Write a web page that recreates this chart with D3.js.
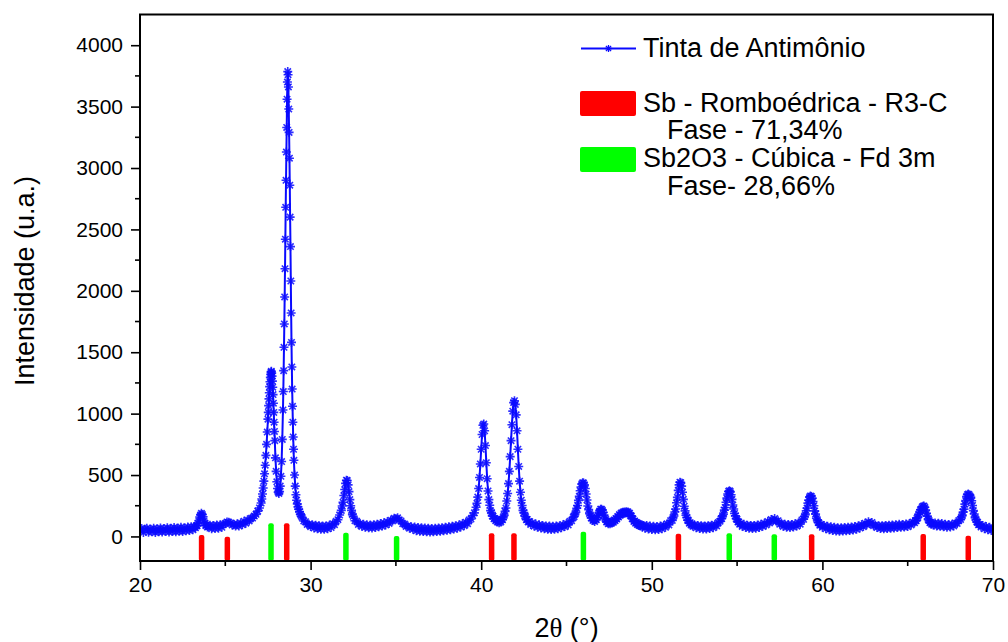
<!DOCTYPE html>
<html>
<head>
<meta charset="utf-8">
<script src="https://cdn.jsdelivr.net/npm/d3@7"></script>
<style>
  html, body { margin: 0; padding: 0; background: #ffffff; }
  svg { display: block; }
  text { font-family: "Liberation Sans", Arial, sans-serif; fill: #000; }
</style>
</head>
<body>
<svg id="chart" width="1008" height="642"></svg>
<script>
// ---------- DATA ----------
const xTicks = [20, 30, 40, 50, 60, 70];
const yTicks = [0, 500, 1000, 1500, 2000, 2500, 3000, 3500, 4000];

// XRD pattern: [2theta (deg), intensity (u.a.)]
const pattern = [
 [20.0,46],[20.1,64],[20.2,32],[20.3,58],[20.4,66],[20.5,34],[20.6,60],[20.7,38],[20.8,66],[20.9,32],
 [21.0,62],[21.1,38],[21.2,68],[21.3,36],[21.4,64],[21.5,40],[21.6,70],[21.7,36],[21.8,66],[21.9,40],
 [22.0,72],[22.1,38],[22.2,68],[22.3,42],[22.4,74],[22.5,40],[22.6,70],[22.7,46],[22.8,76],[22.9,48],
 [23.0,78],[23.1,54],[23.2,78],
 [23.25,70],[23.3,86],[23.35,88],[23.4,110],[23.45,126],[23.5,158],[23.55,174],[23.6,188],[23.65,178],
 [23.7,160],[23.75,126],[23.8,110],[23.85,90],[23.9,90],[23.95,76],[24.0,80],
 [24.1,92],[24.2,62],[24.3,90],[24.4,64],[24.5,94],[24.6,66],[24.7,96],[24.8,74],[24.9,100],[25.0,106],
 [25.1,118],[25.2,116],[25.3,110],[25.4,94],[25.5,100],[25.6,84],[25.7,104],[25.8,86],[25.9,110],[26.0,96],
 [26.1,124],[26.2,108],[26.3,134],[26.4,126],[26.5,148],[26.6,150],[26.7,166],[26.8,180],[26.9,206],[27.0,232],
 [27.1,272],
 [27.14,305],[27.18,345],[27.22,395],[27.26,450],[27.3,510],[27.34,580],[27.38,660],[27.42,750],[27.46,850],
 [27.5,955],[27.52,1010],[27.54,1065],[27.56,1120],[27.58,1170],[27.6,1220],[27.62,1260],[27.64,1295],
 [27.66,1320],[27.68,1338],[27.7,1345],[27.72,1330],[27.74,1305],[27.76,1265],[27.78,1215],[27.8,1155],
 [27.82,1085],[27.84,1010],[27.86,930],[27.88,855],[27.9,780],
 [27.94,640],[27.98,530],[28.02,445],[28.06,390],[28.1,360],[28.14,350],[28.18,365],[28.22,410],[28.26,490],
 [28.3,610],[28.34,790],[28.38,1030],
 [28.4,1180],[28.42,1350],[28.44,1540],[28.46,1730],[28.48,1950],[28.5,2180],[28.52,2420],[28.54,2680],
 [28.56,2900],[28.58,3130],[28.6,3330],[28.62,3560],[28.64,3700],[28.66,3785],[28.68,3760],[28.7,3660],
 [28.72,3480],[28.74,3290],[28.76,3080],[28.78,2860],[28.8,2600],[28.82,2360],[28.84,2080],[28.86,1820],
 [28.88,1580],[28.9,1380],[28.92,1200],[28.94,1060],[28.96,930],[28.98,810],[29.0,710],
 [29.02,620],[29.06,500],[29.1,410],[29.14,340],[29.18,295],[29.22,265],[29.26,240],[29.3,222],[29.35,200],
 [29.4,182],[29.45,166],
 [29.5,156],[29.6,126],[29.7,120],[29.8,98],[29.9,100],[30.0,80],[30.1,96],[30.2,68],[30.3,92],[30.4,62],
 [30.5,88],[30.6,58],[30.7,86],[30.8,58],[30.9,86],[31.0,62],[31.1,92],[31.2,72],[31.3,104],[31.4,96],
 [31.5,124],[31.6,136],[31.7,174],[31.8,212],[31.85,248],[31.9,278],[31.95,333],[32.0,382],[32.05,432],
 [32.1,458],[32.15,455],[32.2,420],[32.25,365],[32.3,300],[32.35,250],[32.4,212],[32.45,178],[32.5,164],
 [32.6,128],[32.7,124],[32.8,98],[32.9,106],[33.0,82],[33.1,100],[33.2,74],[33.3,96],[33.4,70],[33.5,94],
 [33.6,68],[33.7,96],[33.8,72],[33.9,100],[34.0,78],[34.1,106],[34.2,84],[34.3,112],[34.4,94],[34.5,120],
 [34.6,106],[34.7,132],[34.8,126],[34.9,148],[35.0,144],[35.1,152],[35.2,134],[35.3,126],[35.4,104],
 [35.5,102],[35.6,82],[35.7,86],[35.8,66],[35.9,78],[36.0,58],
 [36.1,76],[36.2,46],[36.3,72],[36.4,42],[36.5,70],[36.6,40],[36.7,68],[36.8,38],[36.9,66],[37.0,36],
 [37.1,64],[37.2,38],[37.3,66],[37.4,40],[37.5,68],[37.6,42],[37.7,70],[37.8,46],[37.9,74],[38.0,50],
 [38.1,78],[38.2,54],[38.3,82],[38.4,60],[38.5,88],[38.6,66],[38.7,94],[38.8,76],[38.9,104],[39.0,88],
 [39.1,116],[39.2,104],[39.3,134],[39.4,142],[39.5,170],[39.6,192],[39.7,238],
 [39.75,270],[39.8,320],[39.85,390],[39.9,480],[39.95,590],[40.0,710],[40.05,830],[40.1,905],[40.15,915],
 [40.2,860],[40.25,740],[40.3,600],[40.35,470],[40.4,370],[40.45,300],[40.5,254],[40.55,210],[40.6,194],
 [40.65,166],[40.7,164],[40.75,144],[40.8,146],[40.85,128],[40.9,136],[40.95,118],[41.0,128],[41.05,112],
 [41.1,128],[41.15,118],[41.2,138],[41.25,136],[41.3,160],[41.35,171],[41.4,204],[41.45,231],[41.5,288],
 [41.55,350],[41.6,430],[41.65,530],[41.7,650],[41.75,780],[41.8,910],[41.85,1020],[41.9,1090],[41.95,1105],
 [42.0,1075],[42.05,990],[42.1,860],[42.15,710],[42.2,570],[42.25,450],[42.3,360],[42.35,295],[42.4,252],
 [42.45,212],[42.5,194],[42.55,166],[42.6,160],[42.65,136],[42.7,138],[42.75,118],[42.8,122],
 [42.9,98],[43.0,112],[43.1,84],[43.2,102],[43.3,74],[43.4,96],[43.5,68],[43.6,90],[43.7,62],[43.8,86],
 [43.9,58],[44.0,84],[44.1,56],[44.2,82],[44.3,58],[44.4,84],[44.5,62],[44.6,88],[44.7,70],[44.8,96],
 [44.9,80],[45.0,106],[45.1,94],[45.2,124],[45.3,128],[45.4,156],
 [45.45,162],[45.5,186],[45.55,197],[45.6,229],[45.65,252],[45.7,294],[45.75,327],[45.8,372],[45.85,403],
 [45.9,428],[45.95,438],[46.0,435],[46.05,420],[46.1,390],[46.15,345],[46.2,297],[46.25,248],[46.3,218],
 [46.35,186],[46.4,174],[46.45,150],[46.5,150],[46.55,130],[46.6,136],[46.65,122],[46.7,138],[46.75,136],
 [46.8,156],[46.85,168],[46.9,194],[46.95,208],[47.0,222],[47.05,222],[47.1,214],[47.15,196],[47.2,174],
 [47.25,148],[47.3,138],[47.35,118],[47.4,120],[47.45,104],[47.5,114],[47.55,104],[47.6,118],[47.65,110],
 [47.7,124],[47.75,116],[47.8,134],[47.85,128],[47.9,146],[47.95,142],[48.0,162],[48.05,158],[48.1,178],
 [48.15,172],[48.2,190],[48.25,182],[48.3,196],[48.35,186],[48.4,200],[48.45,190],[48.5,202],[48.55,192],
 [48.6,200],[48.65,188],[48.7,189],[48.75,171],[48.8,166],[48.85,146],[48.9,142],[48.95,122],[49.0,126],
 [49.05,108],[49.1,114],[49.15,98],[49.2,106],[49.25,90],[49.3,100],[49.35,84],[49.4,94],[49.45,78],[49.5,90],
 [49.6,66],[49.7,90],[49.8,60],[49.9,84],[50.0,56],[50.1,82],[50.2,54],[50.3,80],[50.4,56],[50.5,84],
 [50.6,62],[50.7,90],[50.8,74],[50.9,104],[51.0,94],[51.1,128],[51.2,130],
 [51.25,156],[51.3,166],[51.35,199],[51.4,224],[51.45,274],[51.5,318],[51.55,375],[51.6,420],[51.65,442],
 [51.7,438],[51.75,410],[51.8,360],[51.85,302],[51.9,246],[51.95,208],[52.0,172],[52.05,156],[52.1,132],
 [52.15,128],[52.2,108],[52.25,112],[52.3,94],[52.35,100],[52.4,84],
 [52.5,96],[52.6,70],[52.7,90],[52.8,64],[52.9,88],[53.0,60],[53.1,86],[53.2,60],[53.3,88],[53.4,64],
 [53.5,92],[53.6,70],[53.7,98],[53.8,86],[53.9,114],[54.0,124],
 [54.05,142],[54.1,146],[54.15,169],[54.2,181],[54.25,214],[54.3,236],[54.35,278],[54.4,312],[54.45,345],
 [54.5,366],[54.55,372],[54.6,365],[54.65,340],[54.7,302],[54.75,256],[54.8,223],[54.85,187],[54.9,169],
 [54.95,144],[55.0,138],[55.05,118],[55.1,118],[55.15,100],[55.2,106],
 [55.3,82],[55.4,100],[55.5,72],[55.6,92],[55.7,66],[55.8,90],[55.9,64],[56.0,90],[56.1,66],[56.2,94],
 [56.3,72],[56.4,100],[56.5,82],[56.6,108],[56.7,94],[56.8,122],[56.9,110],[57.0,138],[57.1,128],[57.2,146],
 [57.3,124],[57.4,128],[57.5,100],[57.6,108],[57.7,82],[57.8,100],[57.9,74],[58.0,98],[58.1,72],[58.2,98],
 [58.3,76],[58.4,104],[58.5,84],[58.6,112],[58.7,100],[58.8,134],[58.9,140],
 [58.95,164],[59.0,176],[59.05,209],[59.1,231],[59.15,271],[59.2,296],[59.25,322],[59.3,330],[59.35,326],
 [59.4,312],[59.45,285],[59.5,250],[59.55,208],[59.6,182],[59.65,148],[59.7,136],[59.75,114],[59.8,110],
 [59.85,92],[59.9,98],
 [60.0,74],[60.1,90],[60.2,62],[60.3,82],[60.4,54],[60.5,78],[60.6,48],[60.7,74],[60.8,44],[60.9,70],
 [61.0,42],[61.1,70],[61.2,44],[61.3,72],[61.4,46],[61.5,74],[61.6,48],[61.7,76],[61.8,52],[61.9,80],
 [62.0,58],[62.1,86],[62.2,68],[62.3,96],[62.4,80],[62.5,108],[62.6,96],[62.7,120],[62.8,106],[62.9,114],
 [63.0,88],[63.1,94],[63.2,72],[63.3,88],[63.4,64],[63.5,88],[63.6,62],[63.7,90],[63.8,64],[63.9,92],
 [64.0,66],[64.1,94],[64.2,68],[64.3,96],[64.4,72],[64.5,100],[64.6,74],[64.7,98],[64.8,76],[64.9,102],
 [65.0,80],[65.1,106],[65.2,94],[65.3,118],[65.4,112],
 [65.45,128],[65.5,128],[65.55,149],[65.6,156],[65.65,182],[65.7,195],[65.75,217],[65.8,223],[65.85,240],
 [65.9,246],[65.95,248],[66.0,238],[66.05,215],[66.1,188],[66.15,165],[66.2,139],[66.25,130],[66.3,112],
 [66.35,114],[66.4,100],[66.45,108],[66.5,94],
 [66.6,110],[66.7,84],[66.8,108],[66.9,82],[67.0,106],[67.1,78],[67.2,100],[67.3,74],[67.4,98],[67.5,76],
 [67.6,100],[67.7,86],[67.8,110],[67.9,106],[68.0,130],[68.1,138],
 [68.15,158],[68.2,169],[68.25,198],[68.3,222],[68.35,263],[68.4,292],[68.45,325],[68.5,340],[68.55,345],
 [68.6,340],[68.65,330],[68.7,318],[68.75,290],[68.8,252],[68.85,210],[68.9,183],[68.95,152],[69.0,139],
 [69.05,118],[69.1,114],[69.15,96],[69.2,98],
 [69.3,76],[69.4,90],[69.5,62],[69.6,80],[69.7,54],[69.8,74],[69.9,48],[70.0,70]
];

// Reference reflections (position 2theta, bar top in u.a.; bars start at the bottom of the axis)
const sbPositions   = [23.61, 25.12, 28.60, 40.61, 41.92, 51.56, 59.37, 65.91, 68.55];
const sbTops        = [12, -2, 107, 26, 26, 22, 18, 20, 6];
const sb2o3Positions = [27.68, 32.07, 35.04, 45.99, 54.54, 57.18];
const sb2o3Tops      = [107, 31, 4, 39, 26, 18];

const seriesLabel = "Tinta de Antimônio";
const sbLabel = ["Sb - Romboédrica - R3-C", "Fase - 71,34%"];
const sb2o3Label = ["Sb2O3 - Cúbica - Fd 3m", "Fase- 28,66%"];

// ---------- LAYOUT ----------
const m = { left: 140, right: 993, top: 14.5, bottom: 561 };
const x = d3.scaleLinear().domain([20, 70]).range([m.left, m.right]);
const y = d3.scaleLinear().domain([-200, 4250]).range([m.bottom, m.top]);
const svg = d3.select("#chart");
const BLUE = "#0a0aff";

// reference bars
const barW = 5.5;
function drawBars(pos, tops, color) {
  svg.append("g").selectAll("rect").data(pos.map((p, i) => [p, tops[i]])).join("rect")
    .attr("x", d => x(d[0]) - barW / 2)
    .attr("y", d => y(d[1]))
    .attr("width", barW)
    .attr("height", d => y(-200) - y(d[1]))
    .attr("rx", 2)
    .attr("fill", color);
}
drawBars(sbPositions, sbTops, "#ff0000");
drawBars(sb2o3Positions, sb2o3Tops, "#00ff00");

// pattern line + asterisk markers
svg.append("clipPath").attr("id", "clip").append("rect")
  .attr("x", m.left).attr("y", m.top).attr("width", m.right - m.left).attr("height", m.bottom - m.top);
const gp = svg.append("g").attr("clip-path", "url(#clip)");
gp.append("path").datum(pattern)
  .attr("d", d3.line().x(d => x(d[0])).y(d => y(d[1])))
  .attr("fill", "none").attr("stroke", BLUE).attr("stroke-width", 2);
const star = "M-4.5,0H4.5M0,-4.5V4.5M-3.2,-3.2L3.2,3.2M-3.2,3.2L3.2,-3.2";
gp.append("g").selectAll("path").data(pattern).join("path")
  .attr("transform", d => `translate(${x(d[0])},${y(d[1])})`)
  .attr("d", star).attr("fill", "none").attr("stroke", BLUE).attr("stroke-width", 1.6).attr("stroke-opacity", 0.85);

// axes
const fs = 21;
const xAxis = svg.append("g").attr("transform", `translate(0,${m.bottom})`)
  .call(d3.axisBottom(x).tickValues(xTicks).tickFormat(d3.format("d")).tickSize(9).tickPadding(7));
const yAxis = svg.append("g").attr("transform", `translate(${m.left},0)`)
  .call(d3.axisLeft(y).tickValues(yTicks).tickFormat(d3.format("d")).tickSize(9).tickPadding(8));
[xAxis, yAxis].forEach(g => {
  g.select(".domain").remove();
  g.selectAll("line").attr("stroke", "#000").attr("stroke-width", 1.6);
  g.selectAll("text").attr("font-size", fs).attr("font-family", "Liberation Sans, Arial, sans-serif").attr("fill", "#000");
});
// minor ticks
const xMinor = xTicks.slice(0, -1).map(v => v + 5);
svg.append("g").selectAll("line").data(xMinor).join("line")
  .attr("x1", d => x(d)).attr("x2", d => x(d)).attr("y1", m.bottom).attr("y2", m.bottom + 5)
  .attr("stroke", "#000").attr("stroke-width", 1.6);
const yMinor = [250, 750, 1250, 1750, 2250, 2750, 3250, 3750];
svg.append("g").selectAll("line").data(yMinor).join("line")
  .attr("x1", m.left - 5).attr("x2", m.left).attr("y1", d => y(d)).attr("y2", d => y(d))
  .attr("stroke", "#000").attr("stroke-width", 1.6);

// frame
svg.append("rect").attr("x", m.left).attr("y", m.top)
  .attr("width", m.right - m.left).attr("height", m.bottom - m.top)
  .attr("fill", "none").attr("stroke", "#000").attr("stroke-width", 2);

// axis titles
svg.append("text").attr("transform", `translate(34,281) rotate(-90)`)
  .attr("text-anchor", "middle").attr("font-size", 27).text("Intensidade (u.a.)");
const xt = svg.append("text").attr("x", x(45)).attr("y", 637).attr("text-anchor", "middle").attr("font-size", 27);
xt.append("tspan").text("2");
xt.append("tspan").attr("font-family", "Liberation Serif, serif").text("θ");
xt.append("tspan").text(" (°)");

// legend
const lf = 27;
const lg = svg.append("g");
lg.append("line").attr("x1", 581).attr("x2", 636).attr("y1", 48.5).attr("y2", 48.5)
  .attr("stroke", BLUE).attr("stroke-width", 1.8);
lg.append("path").attr("transform", "translate(608.5,48.5)").attr("d", "M-3.6,0H3.6M0,-3.6V3.6M-2.6,-2.6L2.6,2.6M-2.6,2.6L2.6,-2.6")
  .attr("stroke", BLUE).attr("stroke-width", 1.3);
lg.append("text").attr("x", 643).attr("y", 57).attr("font-size", lf).text(seriesLabel);
lg.append("rect").attr("x", 580).attr("y", 91).attr("width", 56).attr("height", 25).attr("rx", 2).attr("fill", "#ff0000");
lg.append("text").attr("x", 643).attr("y", 112).attr("font-size", lf).text(sbLabel[0]);
lg.append("text").attr("x", 667).attr("y", 139).attr("font-size", lf).text(sbLabel[1]);
lg.append("rect").attr("x", 580).attr("y", 147).attr("width", 56).attr("height", 25).attr("rx", 2).attr("fill", "#00ff00");
lg.append("text").attr("x", 643).attr("y", 167).attr("font-size", lf).text(sb2o3Label[0]);
lg.append("text").attr("x", 667).attr("y", 195).attr("font-size", lf).text(sb2o3Label[1]);
</script>
</body>
</html>
